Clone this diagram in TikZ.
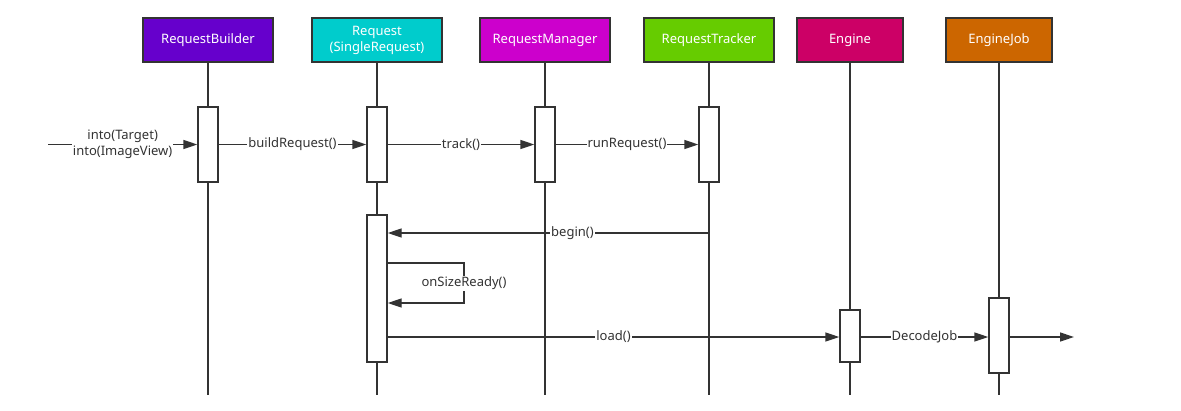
\documentclass[tikz,border=0pt]{standalone}
\usepackage{fontspec}
\setmainfont{Noto Sans}
\usetikzlibrary{arrows.meta,calc}
\definecolor{edge}{HTML}{333333}
\definecolor{cRB}{HTML}{6600CC}
\definecolor{cRQ}{HTML}{00CCCC}
\definecolor{cRM}{HTML}{CC00CC}
\definecolor{cRT}{HTML}{66CC00}
\definecolor{cEN}{HTML}{CC0066}
\definecolor{cEJ}{HTML}{CC6600}
\begin{document}
\begin{tikzpicture}[x=1pt,y=-1pt,
  head/.style={draw=edge,line width=1.4pt,fill=#1,text=white,minimum height=44pt,inner sep=1pt,font=\fontsize{13}{16}\selectfont,align=center},
  life/.style={draw=edge,line width=1.4pt},
  actbox/.style={draw=edge,line width=1.4pt,fill=white,minimum width=20pt,inner sep=0pt},
  msg/.style={draw=edge,line width=1.4pt,-{Triangle[length=14pt,width=9pt]}},
  lbl/.style={fill=white,text=edge,inner sep=1pt,font=\fontsize{13}{16}\selectfont,align=center}]
\useasboundingbox (0,0) rectangle (1181,410);
% headers
\node[head=cRB,minimum width=130pt] (hRB) at (208,40) {RequestBuilder};
\node[head=cRQ,minimum width=130pt] (hRQ) at (377,40) {Request\\(SingleRequest)};
\node[head=cRM,minimum width=130pt] (hRM) at (545,40) {RequestManager};
\node[head=cRT,minimum width=130pt] (hRT) at (709,40) {RequestTracker};
\node[head=cEN,minimum width=106pt] (hEN) at (850,40) {Engine};
\node[head=cEJ,minimum width=106pt] (hEJ) at (999,40) {EngineJob};
% lifeline ends
\coordinate (eRB) at (208,395);
\coordinate (eRQ) at (377,395);
\coordinate (eRM) at (545,395);
\coordinate (eRT) at (709,395);
\coordinate (eEN) at (850,395);
\coordinate (eEJ) at (999,395);
\foreach \n in {RB,RQ,RM,RT,EN,EJ} {\draw[life] (h\n.south) -- (e\n);}
% activation boxes
\node[actbox,minimum height=75pt] (a1) at (208,144.5) {};
\node[actbox,minimum height=75pt] (a2) at (377,144.5) {};
\node[actbox,minimum height=75pt] (a3) at (545,144.5) {};
\node[actbox,minimum height=75pt] (a4) at (709,144.5) {};
\node[actbox,minimum height=147pt] (a5) at (377,288.5) {};
\node[actbox,minimum height=52pt] (a6) at (850,336) {};
\node[actbox,minimum height=75pt] (a7) at (999,335.5) {};
% messages row 1
\coordinate (src) at (48,144.5);
\draw[msg] (src) -- node[lbl,pos=0.5]{into(Target)\\into(ImageView)} (a1.west);
\draw[msg] (a1.east) -- node[lbl]{buildRequest()} (a2.west);
\draw[msg] (a2.east) -- node[lbl]{track()} (a3.west);
\draw[msg] (a3.east) -- node[lbl]{runRequest()} (a4.west);
% begin
\coordinate (bc) at (709,233);
\draw[msg] (a4.south) -- (bc) -- node[lbl,pos=0.425]{begin()} (a5.east |- bc);
% onSizeReady self call
\coordinate (s1) at (464,263);
\coordinate (s2) at (464,303);
\draw[msg] (a5.east |- s1) -- (s1) -- node[lbl]{onSizeReady()} (s2) -- (a5.east |- s2);
% load
\coordinate (lc) at (387,337);
\draw[msg] (a5.east |- lc) -- node[lbl,pos=0.5]{load()} (a6.west |- lc);
\draw[msg] (a6.east |- lc) -- node[lbl]{DecodeJob} (a7.west |- lc);
\coordinate (out) at (1074,337);
\draw[msg] (a7.east |- lc) -- (out);
\end{tikzpicture}
\end{document}
